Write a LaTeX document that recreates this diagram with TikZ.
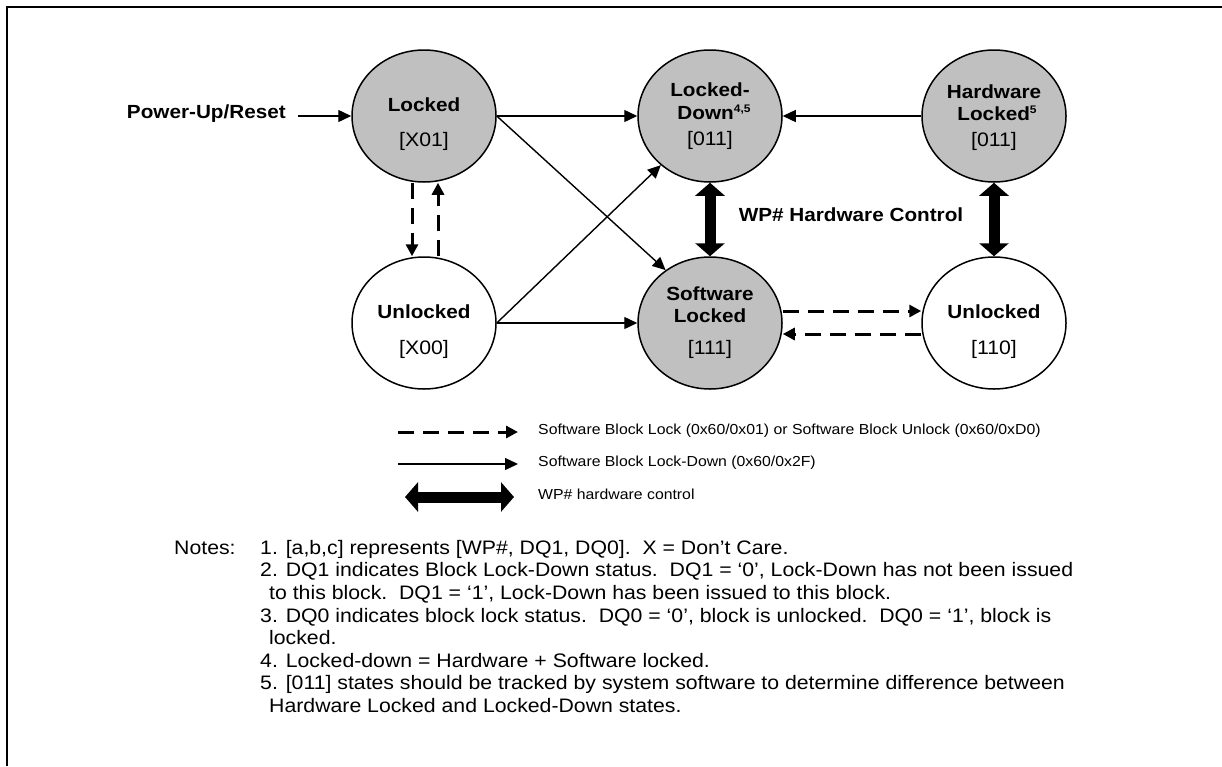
\documentclass[tikz,border=0pt]{standalone}
\usepackage{fontspec}
\setmainfont{Liberation Sans}[FakeStretch=1.09]
\usetikzlibrary{arrows.meta,shapes.geometric}
\definecolor{lockgray}{HTML}{C0C0C0}
\newcommand{\supnum}[1]{\raisebox{7pt}{\fontsize{11}{11}\selectfont\bfseries #1}}
\begin{document}
\begin{tikzpicture}[x=1pt,y=-1pt,
  state/.style={ellipse,draw,line width=1.5pt,minimum width=144pt,minimum height=132pt,inner sep=0pt},
  lockedstate/.style={state,fill=lockgray},
  freestate/.style={state,fill=white},
  lbl/.style={font=\fontsize{19}{22}\bfseries\selectfont,inner sep=0pt,text height=0.72em,text depth=0.2em},
  codetxt/.style={font=\fontsize{19.5}{22}\selectfont,inner sep=0pt,text height=0.72em,text depth=0.2em},
  notetxt/.style={font=\fontsize{19.5}{22}\selectfont,inner sep=0pt,anchor=west,text height=0.72em,text depth=0.2em},
  legtxt/.style={font=\fontsize{14.5}{17}\selectfont,inner sep=0pt,anchor=west,text height=0.72em,text depth=0.2em},
  thinarrow/.style={line width=1.4pt,-{Triangle[length=13pt,width=12pt]}},
  dasharrow/.style={line width=3pt,dash pattern=on 16pt off 9pt,-{Triangle[length=12pt,width=12pt]}},
  hwarrow/.style={line width=11pt,{Triangle[length=13pt,width=29pt]}-{Triangle[length=13pt,width=29pt]}}
]
\fill[white] (0,0) rectangle (1222,766);
\useasboundingbox (0,0) rectangle (1222,766);
% frame
\draw[line width=2.2pt] (6,7) -- (1222,7);
\draw[line width=2.2pt] (7,6) -- (7,766);

% states
\node[lockedstate] (L)  at (424,116) {};
\node[lockedstate] (LD) at (710,116) {};
\node[lockedstate] (HL) at (994,116) {};
\node[freestate]   (U)  at (424,323) {};
\node[lockedstate] (SL) at (710,323) {};
\node[freestate]   (U2) at (994,323) {};

% state texts
\node[lbl] (tL) at (424,109) {Locked};
\node[codetxt] (cL) at (424,144) {[X01]};
\node[lbl] (tLD1) at (710,94) {Locked-};
\node[lbl] (tLD2) at (714,117) {Down\supnum{4,5}};
\node[codetxt] (cLD) at (710,143) {[011]};
\node[lbl] (tHL1) at (994,96) {Hardware};
\node[lbl] (tHL2) at (997,118) {Locked\supnum{5}};
\node[codetxt] (cHL) at (994,144) {[011]};
\node[lbl] (tU) at (424,316) {Unlocked};
\node[codetxt] (cU) at (424,352) {[X00]};
\node[lbl] (tSL1) at (710,298) {Software};
\node[lbl] (tSL2) at (710,320) {Locked};
\node[codetxt] (cSL) at (710,352) {[111]};
\node[lbl] (tU2) at (994,316) {Unlocked};
\node[codetxt] (cU2) at (994,352) {[110]};

% power up
\node[lbl,anchor=east] (PU) at (286,116) {Power-Up/Reset};
\draw[thinarrow] ([xshift=12pt]PU.east) -- (L.west);

% solid transitions
\draw[thinarrow] (L.east) -- (LD.west);
\draw[thinarrow] (L.east) -- (SL.130);
\draw[thinarrow] (U.east) -- (LD.225);
\draw[thinarrow] (U.east) -- (SL.west);
\draw[thinarrow] (HL.west) -- (LD.east);

% dashed transitions
\draw[dasharrow] ([xshift=-12pt]L.south) -- ([xshift=-12pt]U.north);
\draw[dasharrow] ([xshift=14pt]U.north) -- ([xshift=14pt]L.south);
\draw[dasharrow] ([yshift=12pt]SL.east) -- ([yshift=12pt]U2.west);
\draw[dasharrow] ([yshift=-11pt]U2.west) -- ([yshift=-11pt]SL.east);

% hardware control
\draw[hwarrow] (LD.south) -- (SL.north);
\draw[hwarrow] (HL.south) -- (U2.north);
\node[lbl] (WP) at (851,219) {WP\# Hardware Control};

% legend
\coordinate (ld1) at (398,432);
\coordinate (ld2) at (518,432);
\coordinate (ls1) at (398,464);
\coordinate (ls2) at (518,464);
\coordinate (lh1) at (405,497);
\coordinate (lh2) at (514,497);
\draw[dasharrow] (ld1) -- (ld2);
\draw[thinarrow] (ls1) -- (ls2);
\draw[hwarrow] (lh1) -- (lh2);
\node[legtxt] (lt1) at (538,432) {Software Block Lock (0x60/0x01) or Software Block Unlock (0x60/0xD0)};
\node[legtxt] (lt2) at (538,464) {Software Block Lock-Down (0x60/0x2F)};
\node[legtxt] (lt3) at (538,497) {WP\# hardware control};

% notes
\node[notetxt] (nh) at (174,552) {Notes:};
\node[notetxt] (n1) at (260,552) {1. [a,b,c] represents [WP\#, DQ1, DQ0].\ \ X = Don’t Care.};
\node[notetxt] (n2) at (260,574) {2. DQ1 indicates Block Lock-Down status.\ \ DQ1 = ‘0’, Lock-Down has not been issued};
\node[notetxt] (n2b) at (269,597) {to this block.\ \ DQ1 = ‘1’, Lock-Down has been issued to this block.};
\node[notetxt] (n3) at (260,620) {3. DQ0 indicates block lock status.\ \ DQ0 = ‘0’, block is unlocked.\ \ DQ0 = ‘1’, block is};
\node[notetxt] (n3b) at (269,642) {locked.};
\node[notetxt] (n4) at (260,665) {4. Locked-down = Hardware + Software locked.};
\node[notetxt] (n5) at (260,687) {5. [011] states should be tracked by system software to determine difference between};
\node[notetxt] (n5b) at (269,710) {Hardware Locked and Locked-Down states.};
\end{tikzpicture}
\end{document}
